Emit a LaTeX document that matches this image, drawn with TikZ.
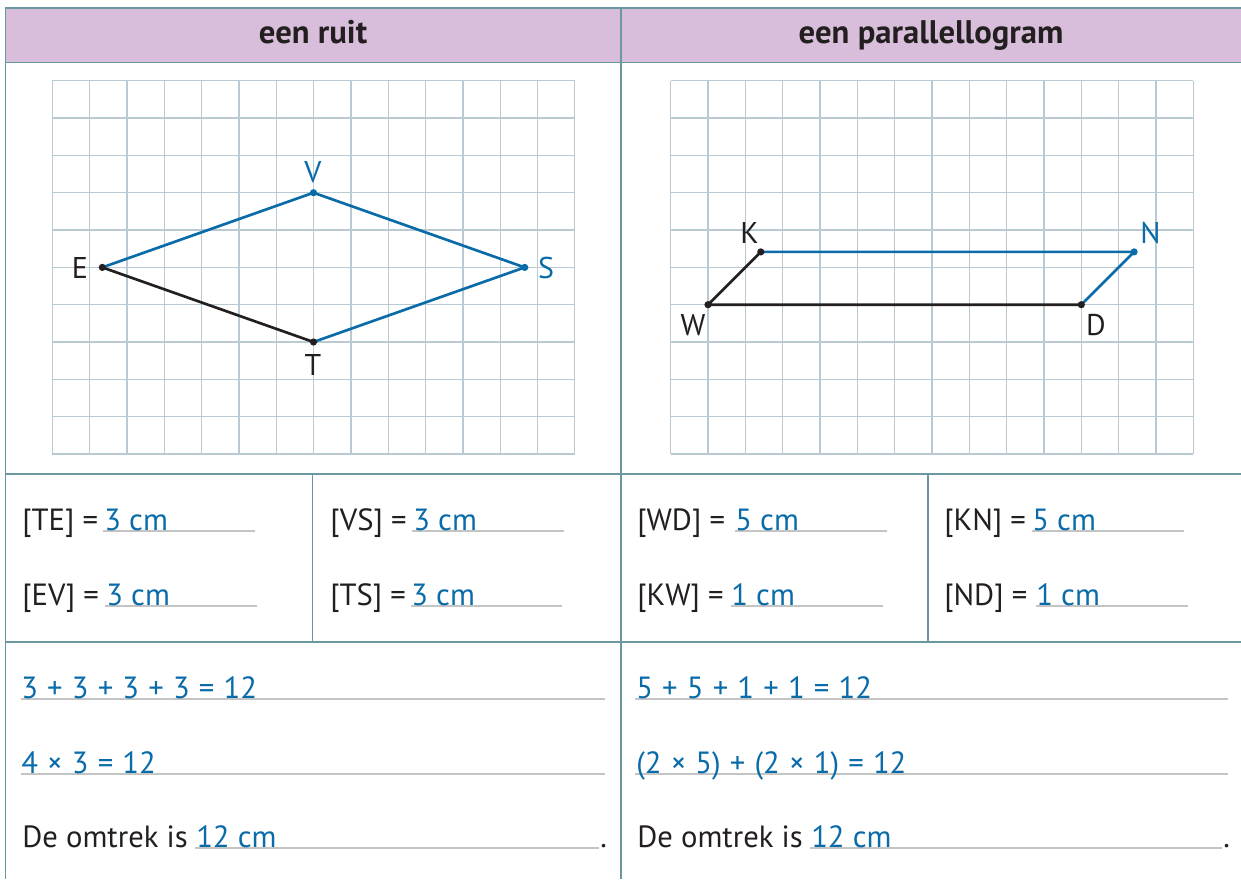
\documentclass[tikz,border=0pt]{standalone}
\usepackage{fontspec}
\setmainfont{PT Sans}
\definecolor{bordercol}{HTML}{6A98A2}
\definecolor{headbg}{HTML}{D8BEDB}
\definecolor{gridcol}{HTML}{B9CAD2}
\definecolor{ansblue}{HTML}{0A6BA9}
\definecolor{ulgray}{HTML}{C4C4C4}
\definecolor{txtblack}{HTML}{231F20}
\newcommand\opsp{\hspace{0.3em}}
\begin{document}
\begin{tikzpicture}[x=0.75pt,y=-0.75pt,
  border/.style={draw=bordercol,line width=1.3pt},
  gridl/.style={draw=gridcol,line width=1pt},
  lbl/.style={font=\fontsize{23}{27}\selectfont,inner sep=0pt,anchor=base west,text=txtblack},
  ans/.style={lbl,text=ansblue},
  uline/.style={draw=ulgray,line width=1.5pt},
  head/.style={font=\fontsize{24.5}{28}\selectfont\bfseries,inner sep=0pt,anchor=base,text=txtblack},
  vlbl/.style={font=\fontsize{22.5}{26}\selectfont,inner sep=0pt,anchor=base,text=txtblack},
  blueedge/.style={draw=ansblue,line width=2pt},
  blackedge/.style={draw=txtblack,line width=2pt}]
\useasboundingbox (0,0) rectangle (1241,879);
% header
\fill[headbg] (5.5,8) rectangle (1241,62.5);
\node[head] (h1) at (313,43.3) {een ruit};
\node[head] (h2) at (931,43.3) {een parallellogram};
% table lines
\draw[border] (1241,8) -- (5.5,8) -- (5.5,879);
\draw[border] (5.5,62.5) -- (1241,62.5);
\draw[border] (621,8) -- (621,879);
\draw[border] (5.5,474) -- (1241,474);
\draw[border] (5.5,642) -- (1241,642);
\draw[border] (312.5,474) -- (312.5,642);
\draw[border] (927.7,474) -- (927.7,642);
% grids
\foreach \i in {0,...,14} {
  \draw[gridl] ({52.2+\i*37.33},80.7) -- ({52.2+\i*37.33},454);
  \draw[gridl] ({670.7+\i*37.33},80.7) -- ({670.7+\i*37.33},454);
}
\foreach \j in {0,...,10} {
  \draw[gridl] (52.2,{80.7+\j*37.33}) -- (574.8,{80.7+\j*37.33});
  \draw[gridl] (670.7,{80.7+\j*37.33}) -- (1193.3,{80.7+\j*37.33});
}
% rhombus
\coordinate (V) at (313.5,192.7);
\coordinate (E) at (102.3,267.4);
\coordinate (S) at (524.7,267.4);
\coordinate (T) at (313.5,342);
\draw[blueedge] (E) -- (V) -- (S) -- (T);
\draw[blackedge] (T) -- (E);
\fill[txtblack] (E) circle (2.7pt) (T) circle (2.7pt);
\fill[ansblue] (V) circle (2.7pt) (S) circle (2.7pt);
\node[vlbl,text=ansblue] (lV) at (313,182) {V};
\node[vlbl] (lE) at (80,278) {E};
\node[vlbl,text=ansblue] (lS) at (546,278) {S};
\node[vlbl] (lT) at (313,375) {T};
% parallelogram
\coordinate (W) at (708,304.7);
\coordinate (D) at (1081.3,304.7);
\coordinate (K) at (760.8,251.9);
\coordinate (N) at (1134.1,251.9);
\draw[blueedge] (K) -- (N) -- (D);
\draw[blackedge] (D) -- (W) -- (K);
\fill[txtblack] (W) circle (2.7pt) (D) circle (2.7pt) (K) circle (2.7pt);
\fill[ansblue] (N) circle (2.7pt);
\node[vlbl] (lK) at (749.5,243) {K};
\node[vlbl,text=ansblue] (lN) at (1150.5,243) {N};
\node[vlbl] (lW) at (693,335) {W};
\node[vlbl] (lD) at (1096,335) {D};
% measurements left
\draw[uline] (103,531) -- (255,531);
\node[lbl] (q1) at (22,530) {[TE] =};
\node[ans] (a1) at (104,530) {3 cm};
\draw[uline] (105,606) -- (257,606);
\node[lbl] (q2) at (22,605) {[EV] =};
\node[ans] (a2) at (106,605) {3 cm};
\draw[uline] (412,531) -- (564,531);
\node[lbl] (q3) at (330,530) {[VS] =};
\node[ans] (a3) at (413,530) {3 cm};
\draw[uline] (411,606) -- (562,606);
\node[lbl] (q4) at (330,605) {[TS] =};
\node[ans] (a4) at (411,605) {3 cm};
% measurements right
\draw[uline] (735,531) -- (886.5,531);
\node[lbl] (q5) at (637,530) {[WD] =};
\node[ans] (a5) at (735,530) {5 cm};
\draw[uline] (731,606) -- (883,606);
\node[lbl] (q6) at (637,605) {[KW] =};
\node[ans] (a6) at (731,605) {1 cm};
\draw[uline] (1032,531) -- (1184,531);
\node[lbl] (q7) at (944,530) {[KN] =};
\node[ans] (a7) at (1032,530) {5 cm};
\draw[uline] (1036,606) -- (1188,606);
\node[lbl] (q8) at (944,605) {[ND] =};
\node[ans] (a8) at (1036,605) {1 cm};
% perimeter left
\draw[uline] (20.5,699) -- (605,699);
\node[ans] (p1) at (21,698) {3\opsp+\opsp3\opsp+\opsp3\opsp+\opsp3\opsp=\opsp12};
\draw[uline] (20.5,774) -- (605,774);
\node[ans] (p2) at (21,773) {4\opsp×\opsp3\opsp=\opsp12};
\draw[uline] (195,848) -- (599,848);
\node[lbl] (p3) at (22,847) {De omtrek is};
\node[ans] (p4) at (196,847) {12 cm};
\node[lbl] (p5) at (600,847) {.};
% perimeter right
\draw[uline] (635,699) -- (1228,699);
\node[ans] (r1) at (636,698) {5\opsp+\opsp5\opsp+\opsp1\opsp+\opsp1\opsp=\opsp12};
\draw[uline] (635,774) -- (1228,774);
\node[ans] (r2) at (636,773) {(2\opsp×\opsp5)\opsp+\opsp(2\opsp×\opsp1)\opsp=\opsp12};
\draw[uline] (810,848) -- (1222,848);
\node[lbl] (r3) at (637,847) {De omtrek is};
\node[ans] (r4) at (811,847) {12 cm};
\node[lbl] (r5) at (1223,847) {.};
\end{tikzpicture}
\end{document}
